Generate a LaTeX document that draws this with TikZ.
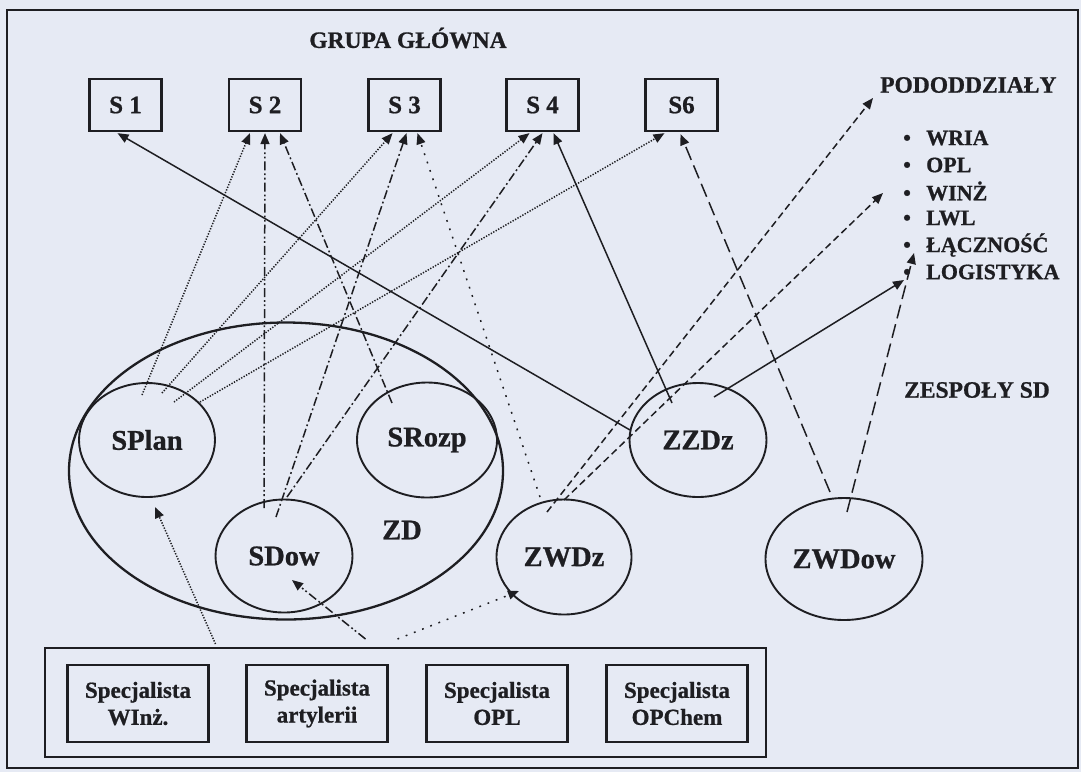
\documentclass[tikz,border=0pt]{standalone}
\usepackage{fontspec}
\setmainfont{Liberation Serif}[BoldFeatures={FakeBold=0.8}]
\usetikzlibrary{arrows.meta,shapes.geometric,calc}
\definecolor{paper}{RGB}{230,234,244}
\definecolor{ink}{RGB}{30,30,34}

\begin{document}
\begin{tikzpicture}[x=1pt,y=-1pt,
  every node/.style={text=ink},
  sbox/.style={draw=ink, line width=2.3pt, minimum width=72pt, minimum height=52pt,
    inner sep=0pt, font=\bfseries\fontsize{25}{28}\selectfont},
  cell/.style={ellipse, draw=ink, line width=1.9pt, inner sep=0pt,
    font=\bfseries\fontsize{28.5}{32}\selectfont},
  specbox/.style={draw=ink, line width=2.3pt, minimum width=141pt, minimum height=77pt,
    inner sep=0pt, align=center, font=\bfseries\fontsize{23}{27}\selectfont},
  heading/.style={font=\bfseries\fontsize{23.5}{27}\selectfont},
  item/.style={anchor=west, inner sep=0pt, font=\bfseries\fontsize{22}{26}\selectfont},
  conn/.style={draw=ink, line width=1.5pt, -{Triangle[length=11pt,width=9pt]}},
  dotline/.style={dash pattern=on 1.3pt off 1.5pt},
  sparseline/.style={dash pattern=on 1.8pt off 7pt},
  dashdotline/.style={dash pattern=on 9pt off 3pt on 1.8pt off 3pt},
  dashdotdotline/.style={dash pattern=on 9pt off 3pt on 1.8pt off 2.5pt on 1.8pt off 3pt},
  dashline/.style={dash pattern=on 7pt off 4pt},
  longdashline/.style={dash pattern=on 14pt off 6pt}
]
% page and frame
\fill[paper] (0,0) rectangle (1081,772);
\useasboundingbox (0,0) rectangle (1081,772);
\draw[ink, line width=2pt] (7,10) rectangle (1078,768);

% headings
\node[heading] (grupa) at (408,38) {GRUPA GŁÓWNA};
\node[heading, anchor=west, inner sep=0pt] (pod) at (880,85) {PODODDZIAŁY};
\node[heading] (zesp) at (977,390) {ZESPOŁY SD};

% subunit list
\node[item] (wria) at (903,138) {\makebox[23pt][l]{•}WRIA};
\node[item] (opl)  at (903,165) {\makebox[23pt][l]{•}OPL};
\node[item] (winz) at (903,191) {\makebox[23pt][l]{•}WINŻ};
\node[item] (lwl)  at (903,218) {\makebox[23pt][l]{•}LWL};
\node[item] (lacz) at (903,245) {\makebox[23pt][l]{•}ŁĄCZNOŚĆ};
\node[item] (logi) at (903,272) {\makebox[23pt][l]{•}LOGISTYKA};

% main group sections
\node[sbox] (s1) at (125.5,105) {S 1};
\node[sbox] (s2) at (265,105) {S 2};
\node[sbox] (s3) at (404.5,105) {S 3};
\node[sbox] (s4) at (542.5,105) {S 4};
\node[sbox] (s6) at (681.5,105) {S6};

% command post and its cells
\node[ellipse, draw=ink, line width=2.3pt, minimum width=434pt, minimum height=297pt, inner sep=0pt] (zd) at (286,471) {};
\node[font=\bfseries\fontsize{28.5}{32}\selectfont] (zdlabel) at (402,530) {ZD};
\node[cell, minimum width=136pt, minimum height=114pt] (splan) at (147,440) {SPlan};
\node[cell, minimum width=137pt, minimum height=113pt] (sdow)  at (284,556) {SDow};
\node[cell, minimum width=140pt, minimum height=115pt] (srozp) at (427,440) {SRozp};

% SD teams
\node[cell, minimum width=135pt, minimum height=115pt] (zwdz)  at (564,557) {ZWDz};
\node[cell, minimum width=137pt, minimum height=114pt] (zzdz)  at (698,440) {ZZDz};
\node[cell, minimum width=157pt, minimum height=122pt] (zwdow) at (844,559) {ZWDow};

% specialists
\node[draw=ink, line width=2pt, minimum width=721pt, minimum height=109pt, inner sep=0pt] (grp) at (405.5,702.5) {};
\node[specbox] (sp1) at (138,703.5) {Specjalista\\WInż.};
\node[specbox] (sp2) at (317,703.5) {Specjalista\\artylerii};
\node[specbox] (sp3) at (497,703.5) {Specjalista\\OPL};
\node[specbox] (sp4) at (677,703.5) {Specjalista\\OPChem};

% links to S1
\draw[conn] ($(zzdz)+(-68,-10)$) -- ($(s1.south)+(-8,1)$);
% links to S2
\draw[conn,dotline]        ($(splan)+(-5,-45)$) -- ($(s2.south)+(-15,1)$);
\draw[conn,dashdotdotline] ($(sdow)+(-20,-48)$) -- ($(s2.south)+(0,1)$);
\draw[conn,dashdotline]    ($(srozp)+(-35,-37)$) -- ($(s2.south)+(15,1)$);
% links to S3
\draw[conn,dotline]     ($(splan)+(15,-47)$) -- ($(s3.south)+(-12,1)$);
\draw[conn,dashdotline] ($(sdow)+(-8,-39)$) -- ($(s3.south)+(2,1)$);
\draw[conn,sparseline]  ($(zwdz)+(-24,-60)$) -- ($(s3.south)+(13,1)$);
% links to S4
\draw[conn,dotline]     ($(splan)+(27,-38)$) -- ($(s4.south)+(-13,1)$);
\draw[conn,dashdotline] ($(sdow)+(3,-59)$) -- ($(s4.south)+(0,1)$);
\draw[conn]             ($(zzdz)+(-26,-37)$) -- ($(s4.south)+(11,1)$);
% links to S6
\draw[conn,dotline]      ($(splan)+(53,-38)$) -- ($(s6.south)+(-17,1)$);
\draw[conn,longdashline] ($(zwdow)+(-14,-67)$) -- ($(s6.south)+(-1,2)$);
% links to subunits
\draw[conn,dashline]     ($(zwdz)+(-17,-45)$) -- ($(pod.west)+(-7,13)$);
\draw[conn,dashline]     ($(zwdz)+(0,-57)$) -- ($(winz.west)+(-20,2)$);
\draw[conn]              ($(zzdz)+(16,-43)$) -- ($(logi.west)+(1,8)$);
\draw[conn,longdashline] ($(zwdow)+(3,-47)$) -- ($(lacz.west)+(11,8)$);
% links from specialists
\draw[conn,dotline]        ($(grp.north)+(-190,-3)$) -- ($(splan)+(8,67)$);
\draw[conn,dashdotdotline] ($(grp.north)+(-40,-8)$) -- ($(sdow)+(8,24)$);
\draw[conn,sparseline]     ($(grp.north)+(-8,-8)$) -- ($(zwdz)+(-45,34)$);
\end{tikzpicture}
\end{document}
